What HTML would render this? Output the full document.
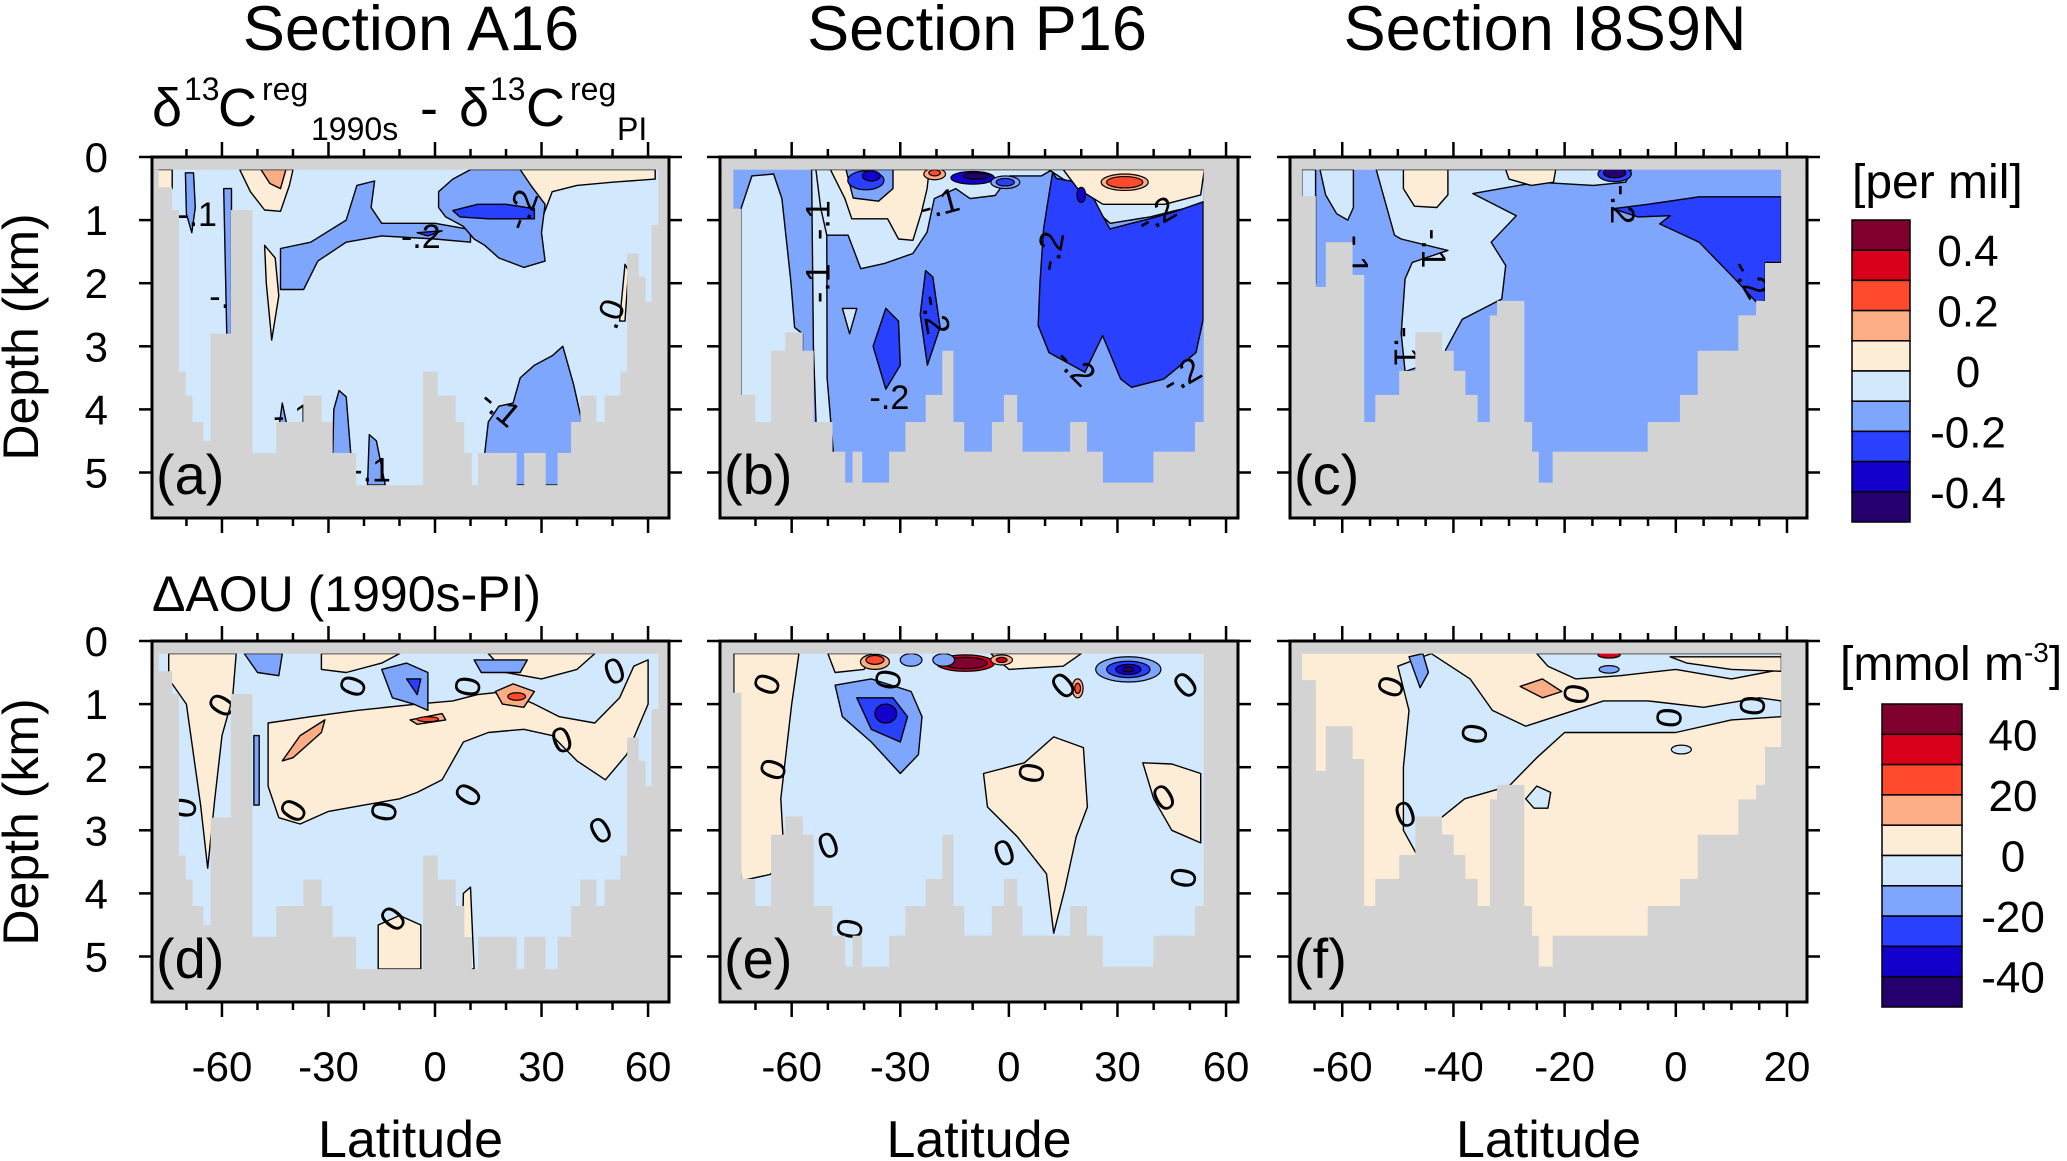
<!DOCTYPE html>
<html><head><meta charset="utf-8"><style>
html,body{margin:0;padding:0;background:#fff;}
svg{display:block;font-family:"Liberation Sans",sans-serif;}
</style></head><body>
<svg id="fig" xmlns="http://www.w3.org/2000/svg" width="2067" height="1161" viewBox="0 0 2067 1161">
<rect x="0" y="0" width="2067" height="1161" fill="#fff"/>
<text x="411" y="50" font-size="63" text-anchor="middle">Section A16</text>
<text x="977" y="50" font-size="63" text-anchor="middle">Section P16</text>
<text x="1545" y="50" font-size="63" text-anchor="middle">Section I8S9N</text>
<g>
<text x="152" y="126" font-size="54">δ</text><text x="184" y="100" font-size="32">13</text><text x="218" y="126" font-size="54">C</text><text x="262" y="100" font-size="32">reg</text><text x="311" y="140" font-size="32">1990s</text>
<text x="420" y="126" font-size="54">-</text>
<text x="459" y="126" font-size="54">δ</text><text x="490" y="100" font-size="32">13</text><text x="526" y="126" font-size="54">C</text><text x="570" y="100" font-size="32">reg</text><text x="617" y="140" font-size="32">PI</text>
</g>
<text x="152" y="611" font-size="50">ΔAOU (1990s-PI)</text>
<text transform="translate(38,337) rotate(-90)" font-size="50" text-anchor="middle">Depth (km)</text>
<text transform="translate(38,822) rotate(-90)" font-size="50" text-anchor="middle">Depth (km)</text>
<text x="1852" y="198" font-size="48">[per mil]</text>
<text x="1840" y="680" font-size="48">[mmol m<tspan dy="-18" font-size="28">-3</tspan><tspan dy="18">]</tspan></text>
<g id="panels"></g>
<g id="cbars"></g>
</svg>
<script>
const NS="http://www.w3.org/2000/svg";
const LEV_TOP=[-0.4,-0.3,-0.2,-0.1,0,0.1,0.2,0.3,0.4];
const LEV_BOT=[-40,-30,-20,-10,0,10,20,30,40];
const COLORS=['#24006e','#1400cc','#2a40ff','#7fa6fd','#d2e8fd','#fdedd6','#fdad86','#ff4a2e','#d9001b','#80002f'];
const CB_TOP_LABELS=['0.4','0.2','0','-0.2','-0.4'];
const CB_BOT_LABELS=['40','20','0','-20','-40'];

const A_bathyEdges=[-80,-77.9,-74.1,-72.2,-70.3,-68.4,-65.3,-63.1,-57.4,-51.5,-44.6,-37,-32,-28.9,-24.5,-22.3,-3.3,0.7,5.7,8.2,10.3,12.2,14.5,22.9,25.2,31.1,34.6,38.4,41,45.4,47.9,52.3,54.2,57.3,59.2,61.1,63,66];
const A_bathyDepth=[0.2,0.48,0.84,3.4,3.78,4.2,4.5,2.8,0.84,4.69,4.2,3.78,4.2,4.69,4.69,5.2,3.4,3.78,4.2,4.69,5.2,4.69,4.69,5.2,4.69,5.2,4.69,4.2,3.78,4.2,3.78,3.4,1.53,1.9,2.3,1.08,0.2];
const B_bathyEdges=[-81,-76.2,-74,-70.1,-65.6,-61.7,-57,-54,-48.8,-45.3,-43.1,-40.6,-33,-28.5,-22.9,-18.3,-15.4,-12.4,-4.6,-1.3,2.2,3.7,17,21.5,25.9,40,51.5,53.9,64];
const B_bathyDepth=[0.2,0.82,3.77,4.2,3.07,2.78,3.07,4.2,4.67,5.16,4.67,5.16,4.67,4.2,3.77,3.07,4.2,4.67,4.2,3.77,4.2,4.67,4.2,4.67,5.16,4.67,4.2,0.2];
const C_bathyEdges=[-70,-67.3,-64.8,-62.9,-58.2,-56.1,-54,-49.7,-46.8,-42.1,-40,-37.9,-35.7,-33.4,-32.1,-27.3,-25.9,-24.7,-22.1,-5,0.8,4,11.3,14.5,16.1,19,24];
const C_bathyDepth=[0.2,0.62,2.06,1.35,1.87,4.2,3.77,3.39,2.78,3.07,3.39,3.77,4.2,2.51,2.28,4.2,4.67,5.16,4.67,4.2,3.77,3.07,2.51,2.28,1.68,0.2];

const A_base=-0.05;
const A_polyVals=[0.05,0.05,0.15,0.05,0.05,0.05,-0.15,-0.15,-0.25,-0.25,-0.15,-0.15,-0.15,-0.15,-0.15,-0.15];
const A_polyPts=[
[[-79,0.2],[-74,0.2],[-74,0.5],[-79,0.5]],
[[-55,0.2],[-40,0.2],[-41,0.45],[-43.5,0.86],[-48,0.84],[-52,0.55]],
[[-49,0.2],[-42,0.2],[-43.5,0.5],[-46.5,0.42]],
[[20.7,0.2],[62,0.2],[62,0.35],[50,0.4],[40,0.45],[33,0.55],[30,1.0],[26,0.8],[24,0.45],[21,0.35]],
[[-48,1.4],[-45,1.6],[-44,2.2],[-46,2.9],[-47.5,2.0]],
[[52,2.6],[53.5,1.7],[54.5,1.8],[53.5,2.6]],
[[-43.5,1.45],[-35,1.35],[-25,1.0],[-22,0.45],[-17,0.38],[-18,0.8],[-15,1.05],[0,1.05],[10,1.15],[10,1.35],[0,1.3],[-15,1.25],[-25,1.35],[-33,1.65],[-37,2.1],[-43.5,2.1]],
[[1,0.55],[5,0.35],[10,0.2],[24,0.2],[27,0.45],[31,0.75],[30,1.2],[31,1.65],[25,1.75],[18,1.6],[14,1.4],[11,1.3],[8,1.1],[3,0.95],[1,0.8]],
[[5,0.85],[12,0.75],[20,0.75],[28,0.82],[28,0.98],[15,0.98],[7,0.95]],
[[-5,1.2],[2,1.17],[-2,1.25]],
[[14,5.2],[14,4.7],[15,4.2],[18,3.95],[22,3.9],[24,3.5],[28,3.3],[33,3.15],[36,3.0],[39,3.6],[41,4.1],[42,5.2]],
[[-59.5,0.5],[-57.3,0.5],[-57.3,3.2],[-58.5,3.2]],
[[-70.3,0.25],[-68,0.25],[-67.5,0.8],[-68.5,1.2],[-70,0.9]],
[[-29,5.2],[-28.5,4.0],[-27,3.7],[-25,3.8],[-23,5.2]],
[[-19,5.2],[-18.5,4.4],[-16.5,4.5],[-14,5.2]],
[[-44,4.3],[-43,3.9],[-41.5,4.3]]];
const A_ellipses=[];
const A_labels=[[-67,0.95,'-.1',0],[-58,2.25,'-.1',0],[-4,1.3,'-.2',0],[25,0.85,'-.2',-70],[50,2.5,'.0',-70],[-40,4.15,'-.1',0],[-18,5.0,'-.1',0],[18,4.0,'-.1',40]];

const B_base=-0.15;
const B_polyVals=[-0.05,-0.05,-0.05,0.05,-0.15,-0.05,-0.25,0.05,-0.25,-0.25,-0.05];
const B_polyPts=[
[[-74,0.82],[-71,0.3],[-65,0.27],[-62.7,0.66],[-60.2,1.98],[-59.2,2.7],[-57,2.8],[-57,4.5],[-74,4.5]],
[[-54.5,0.2],[-50.5,0.2],[-50.3,1.24],[-50.2,3.5],[-48.5,4.67],[-53,4.67],[-54,3]],
[[-53.3,0.2],[12,0.2],[9,0.3],[0.2,0.3],[-3.8,0.61],[-10.7,0.66],[-14.7,0.5],[-20.6,0.66],[-22.6,1.19],[-26.5,1.53],[-34.5,1.69],[-40.9,1.77],[-44.4,1.24],[-50.3,1.24],[-52,0.8]],
[[-49.3,0.2],[-22,0.2],[-22.6,0.5],[-24.1,0.87],[-26.5,1.32],[-30.5,1.3],[-33.5,0.98],[-43.4,0.98],[-45.3,0.66]],
[[-45,0.2],[-32,0.2],[-32,0.5],[-36,0.7],[-43,0.65]],
[[11,0.2],[54,0.2],[54,0.75],[46,0.85],[39,0.95],[28,1.05],[25,0.9],[21,0.55],[15,0.35]],
[[12.1,0.24],[13.1,0.34],[19,0.4],[23,0.61],[25.9,0.93],[27.9,1.14],[38.8,0.98],[45.7,0.87],[53.7,0.71],[53.7,2.57],[51.7,3.1],[42.8,3.52],[33.9,3.65],[30.9,3.52],[25.9,2.83],[21,3.41],[11.1,3.1],[8.1,2.67],[8.6,1.98],[9.6,1.14],[10.6,0.77]],
[[15,0.2],[54,0.2],[53,0.6],[43,0.75],[26,0.75],[19,0.5]],
[[-34,2.4],[-30.5,2.6],[-30,3.3],[-34,3.68],[-37.5,3.0]],
[[-23,1.8],[-21,1.9],[-19,2.7],[-22.5,3.3],[-24.5,2.5]],
[[-46,2.4],[-42,2.4],[-44,2.8]]];
const B_ellipses=[[-39.5,0.37,5,0.15,-0.25],[-38,0.3,2.5,0.08,-0.35],[-20.5,0.27,3,0.09,0.15],[-20.5,0.25,1.6,0.05,0.25],[-10,0.33,6,0.1,-0.35],[-9,0.3,3.5,0.05,-0.45],[-1,0.4,4,0.1,-0.15],[-1,0.4,2.5,0.06,-0.25],[32,0.4,6.5,0.13,0.15],[32,0.4,5,0.09,0.25],[20,0.6,1.2,0.12,-0.35]];
const B_labels=[[-52,1.0,'-.1',-90],[-52,2.0,'-.1',-90],[-19,0.78,'-.1',-15],[-21,2.5,'-.2',80],[-33,3.85,'-.2',0],[12,1.5,'-.2',-80],[18,3.35,'-.2',45],[41,0.95,'-.2',-30],[48,3.5,'-.2',-30]];

const C_base=-0.15;
const C_polyVals=[-0.05,-0.05,-0.05,0.05,0.05,-0.25];
const C_polyPts=[
[[-53.9,0.2],[-8,0.2],[-9,0.4],[-14.8,0.45],[-25,0.4],[-36.5,0.58],[-28.7,0.93],[-33.2,1.35],[-30.6,1.72],[-31.3,2.25],[-38.4,2.57],[-41.3,3.04],[-42,3.2],[-48.7,3.4],[-49.4,2.8],[-48.7,1.93],[-47.4,1.67],[-41,1.48],[-49.4,1.3],[-50.6,1.24]],
[[-67.3,0.2],[-64.8,0.2],[-64.8,2.0],[-67.3,2.0]],
[[-64,0.2],[-58,0.2],[-58,0.8],[-59,1.0],[-61,0.9],[-63,0.6]],
[[-49,0.2],[-41,0.2],[-41,0.6],[-43,0.8],[-47,0.78],[-49,0.5]],
[[-30.6,0.2],[-21.6,0.2],[-22,0.4],[-26,0.45],[-30,0.35]],
[[-11.3,0.82],[-5,0.75],[4.2,0.63],[19,0.63],[19,1.67],[16.1,1.67],[16.1,2.28],[14.5,2.3],[10.6,1.93],[4.2,1.35],[-2.9,1.06],[-1,0.93],[-6.8,0.95]]];
const C_ellipses=[[-11,0.27,3,0.12,-0.25],[-11,0.25,2,0.08,-0.45]];
const C_labels=[[-58,1.55,'-.1',90],[-44,1.45,'-.1',90],[-49,3.0,'-.1',90],[-10,0.75,'-.2',90],[13,1.95,'-.2',60]];

const D_base=-5;
const D_polyVals=[5,5,5,5,5,5,-15,-15,-25,-15,-15,15,15,15];
const D_polyPts=[
[[-75,0.2],[-56,0.2],[-57,0.9],[-60,1.5],[-62,2.5],[-64,3.6],[-66,2.6],[-70,1.0],[-75,0.6]],
[[-47,1.3],[-35,1.2],[-22,1.1],[-5,1.0],[5,0.95],[12,0.85],[20,0.8],[28,1.0],[35,1.2],[45,1.3],[52,0.9],[56,0.4],[60,0.3],[60,1.0],[54,1.8],[48,2.2],[40,1.9],[33,1.5],[25,1.4],[15,1.45],[8,1.6],[2,2.2],[-5,2.4],[-10,2.5],[-20,2.6],[-30,2.7],[-38,2.9],[-44,2.8],[-47,2.3]],
[[-32,0.2],[-10,0.2],[-15,0.35],[-25,0.5],[-32,0.45]],
[[15,0.2],[45,0.2],[40,0.45],[30,0.6],[20,0.5]],
[[-16,5.2],[-16,4.5],[-10,4.35],[-4,4.5],[-4,5.2]],
[[7.5,5.2],[8,4.0],[10,3.9],[11,5.2]],
[[-53.7,0.2],[-43,0.2],[-44,0.55],[-50,0.5]],
[[-15,0.45],[-8,0.35],[-2,0.5],[-2,1.1],[-6,1.0],[-12,0.9]],
[[-8,0.6],[-4,0.6],[-5,0.85]],
[[11,0.3],[26,0.3],[24,0.5],[13,0.5]],
[[-51,1.5],[-49.5,1.5],[-49.5,2.6],[-51,2.6]],
[[-43,1.9],[-38,1.5],[-31,1.25],[-32,1.45],[-40,1.85]],
[[17,0.8],[22,0.68],[28,0.8],[25,1.05],[19,1.0]],
[[-7,1.25],[2,1.15],[3,1.25],[-5,1.32]]];
const D_ellipses=[[23,0.88,2.5,0.06,25],[-2,1.24,3,0.04,25]];
const D_labels=[[-22.4,0.73,'0',-70],[10,0.73,'0',-80],[-59.4,1.04,'0',-60],[50.8,0.52,'0',-20],[36,1.61,'0',-20],[-70,2.65,'0',-80],[-39.2,2.71,'0',-60],[-13.6,2.71,'0',-80],[10,2.46,'0',-60],[47,3.04,'0',-30],[-11.2,4.43,'0',-50]];

const E_base=-5;
const E_polyVals=[5,5,5,5,5,-15,-25];
const E_polyPts=[
[[-76,0.2],[-58,0.2],[-60,1.0],[-63,2.5],[-62,3.5],[-66,3.7],[-74,3.8],[-76,2]],
[[-50,0.2],[-38,0.2],[-40,0.45],[-48,0.5]],
[[-7,2.1],[4.3,1.93],[12.4,1.52],[20.6,1.69],[21.7,2.63],[18.6,3.1],[15.5,3.92],[12.4,4.63],[10.4,3.69],[2.3,3.1],[-5.9,2.63]],
[[37,1.93],[45,1.95],[53,2.1],[53,3.2],[45,3.0],[40,2.5]],
[[-5,0.2],[20,0.2],[15,0.4],[0,0.45]],
[[-48,0.7],[-38,0.6],[-27,0.8],[-24,1.2],[-25,1.8],[-30,2.1],[-38,1.6],[-46,1.2]],
[[-42,0.9],[-32,0.9],[-28,1.2],[-30,1.6],[-38,1.4]]];
const E_ellipses=[[-34,1.15,3,0.15,-35],[-37,0.33,4,0.12,15],[-37,0.3,2.5,0.07,25],[-27,0.3,3,0.1,-15],[-12,0.35,8,0.13,35],[-12,0.35,6,0.09,45],[-18,0.3,3,0.1,-15],[-2,0.3,3,0.08,15],[-2,0.3,1.5,0.04,35],[33,0.45,9,0.2,-15],[33,0.45,6,0.13,-25],[33,0.45,3.5,0.08,-35],[33,0.45,1.5,0.04,-45],[19,0.75,1.5,0.15,15],[19,0.75,0.8,0.08,25]];
const E_labels=[[-66.1,0.7,'0',-70],[-64.4,2.05,'0',-70],[-32.6,0.62,'0',-80],[7,2.1,'0',-80],[-49.6,3.28,'0',-20],[-1,3.4,'0',-20],[-43.2,4.57,'0',-80],[15.5,0.74,'0',-40],[49.3,0.73,'0',-40],[43.2,2.52,'0',-30],[49,3.76,'0',-80]];

const F_base=5;
const F_polyVals=[-5,5,-5,15,-15,-5];
const F_polyPts=[
[[-25,0.2],[19,0.2],[19,0.45],[10,0.6],[0,0.45],[-10,0.55],[-18,0.6],[-23,0.4]],
[[-1,0.25],[19,0.25],[19,0.48],[10,0.45],[2,0.35]],
[[-50,0.4],[-44,0.2],[-37,0.6],[-33,1.1],[-27,1.35],[-20,1.15],[-13,0.95],[-5,0.95],[5,1.05],[15,0.9],[19,0.95],[19,1.2],[10,1.25],[0,1.45],[-10,1.45],[-20,1.45],[-25,1.85],[-30,2.3],[-38,2.5],[-45,3.0],[-46.5,3.4],[-49,3.0],[-49,2.0],[-48,1.1]],
[[-28,0.72],[-24,0.6],[-20.5,0.8],[-24,0.9]],
[[-48,0.25],[-45.5,0.2],[-44.5,0.5],[-46,0.74]],
[[-27,2.5],[-25,2.3],[-22.5,2.4],[-23,2.65],[-25.5,2.65]]];
const F_ellipses=[[-12,0.45,1.8,0.06,-15],[-12,0.22,2,0.05,35],[1,1.72,1.8,0.07,-5]];
const F_labels=[[-50.8,0.74,'0',-70],[-17.4,0.85,'0',-80],[-35.7,1.48,'0',-80],[-0.7,1.22,'0',-85],[14.3,1.03,'0',-85],[-48.5,2.79,'0',-20]];

const root=document.getElementById('panels');
function mk(tag,attrs,parent){const e=document.createElementNS(NS,tag);for(const k in attrs)e.setAttribute(k,attrs[k]);parent.appendChild(e);return e;}
function colorOf(v,lev){let i=0;while(i<lev.length&&v>lev[i])i++;return COLORS[i];}

const KM=63.1, FH=361;
const PANELS=[
{k:'a',x0:152,x1:669,y0:157,lat0:-79.7,lat1:65.9,major:[-60,-30,0,30,60],mstep:10,lev:LEV_TOP,base:A_base,vals:A_polyVals,pts:A_polyPts,ell:A_ellipses,lab:A_labels,be:A_bathyEdges,bd:A_bathyDepth,ylab:true,xlab:false},
{k:'b',x0:720,x1:1238,y0:157,lat0:-79.8,lat1:63.3,major:[-60,-30,0,30,60],mstep:10,lev:LEV_TOP,base:B_base,vals:B_polyVals,pts:B_polyPts,ell:B_ellipses,lab:B_labels,be:B_bathyEdges,bd:B_bathyDepth,ylab:false,xlab:false},
{k:'c',x0:1290,x1:1807,y0:157,lat0:-69.4,lat1:23.6,major:[-60,-40,-20,0,20],mstep:5,lev:LEV_TOP,base:C_base,vals:C_polyVals,pts:C_polyPts,ell:C_ellipses,lab:C_labels,be:C_bathyEdges,bd:C_bathyDepth,ylab:false,xlab:false},
{k:'d',x0:152,x1:669,y0:641,lat0:-79.7,lat1:65.9,major:[-60,-30,0,30,60],mstep:10,lev:LEV_BOT,base:D_base,vals:D_polyVals,pts:D_polyPts,ell:D_ellipses,lab:D_labels,be:A_bathyEdges,bd:A_bathyDepth,ylab:true,xlab:true},
{k:'e',x0:720,x1:1238,y0:641,lat0:-79.8,lat1:63.3,major:[-60,-30,0,30,60],mstep:10,lev:LEV_BOT,base:E_base,vals:E_polyVals,pts:E_polyPts,ell:E_ellipses,lab:E_labels,be:B_bathyEdges,bd:B_bathyDepth,ylab:false,xlab:true},
{k:'f',x0:1290,x1:1807,y0:641,lat0:-69.4,lat1:23.6,major:[-60,-40,-20,0,20],mstep:5,lev:LEV_BOT,base:F_base,vals:F_polyVals,pts:F_polyPts,ell:F_ellipses,lab:F_labels,be:C_bathyEdges,bd:C_bathyDepth,ylab:false,xlab:true}
];

PANELS.forEach(p=>{
  const xs=lat=>p.x0+(lat-p.lat0)/(p.lat1-p.lat0)*(p.x1-p.x0);
  const ys=d=>p.y0+d*KM;
  const pxDeg=(p.x1-p.x0)/(p.lat1-p.lat0);
  const y1=p.y0+FH;
  const g=mk('g',{},root);
  
  
  const cp=mk('clipPath',{id:'clip-'+p.k},g);
  mk('rect',{x:p.x0,y:p.y0,width:p.x1-p.x0,height:FH},cp);
  const bg=mk('rect',{x:p.x0,y:p.y0,width:p.x1-p.x0,height:FH,fill:'#d3d3d3'},g);
  
  
  const field=mk('g',{'clip-path':'url(#clip-'+p.k+')'},g);
  
  
  const base=mk('rect',{x:p.x0,y:ys(0.2),width:p.x1-p.x0,height:y1-ys(0.2),fill:colorOf(p.base,p.lev)},field);
  
  
  p.pts.forEach((poly,i)=>{
    const d=poly.map((q,j)=>(j?'L':'M')+xs(q[0]).toFixed(1)+','+ys(q[1]).toFixed(1)).join('')+'Z';
    const el=mk('path',{d:d,fill:colorOf(p.vals[i],p.lev),stroke:'#000','stroke-width':1.4,'stroke-linejoin':'round'},field);
    
    
  });
  p.ell.forEach(e=>{
    const el=mk('ellipse',{cx:xs(e[0]),cy:ys(e[1]),rx:e[2]*pxDeg,ry:e[3]*KM,fill:colorOf(e[4],p.lev),stroke:'#000','stroke-width':1.2},field);
    
    
  });
  p.lab.forEach(l=>{
    const t=mk('text',{x:0,y:0,transform:'translate('+xs(l[0]).toFixed(1)+','+ys(l[1]).toFixed(1)+') rotate('+l[3]+')','font-size':p.lev===LEV_TOP?34:36,'text-anchor':'middle','dominant-baseline':'middle'},field);
    t.textContent=l[2];
    
    
  });
  const bath=mk('g',{fill:'#d3d3d3'},field);
  
  
  const top=mk('rect',{x:p.x0,y:p.y0,width:p.x1-p.x0,height:ys(0.2)-p.y0},bath);
  
  
  for(let i=0;i<p.bd.length;i++){
    const xa=xs(p.be[i]),xb=xs(p.be[i+1]);
    const r=mk('rect',{x:xa-0.3,y:ys(p.bd[i]),width:xb-xa+0.6,height:y1-ys(p.bd[i])},bath);
    
    
  }
  const lt=mk('text',{x:p.x0+4,y:y1-24,'font-size':56},g);
  lt.textContent='('+p.k+')';
  
  
  const fr=mk('rect',{x:p.x0,y:p.y0,width:p.x1-p.x0,height:FH,fill:'none',stroke:'#000','stroke-width':3},g);
  
  
  const tk=mk('g',{stroke:'#000','stroke-width':2.5},g);
  
  
  const start=Math.ceil(p.lat0/p.mstep)*p.mstep;
  for(let L=start;L<=p.lat1;L+=p.mstep){
    const isMaj=p.major.indexOf(L)>=0;const len=isMaj?15:8;const x=xs(L);
    mk('line',{x1:x,y1:p.y0,x2:x,y2:p.y0-len},tk);
    mk('line',{x1:x,y1:y1,x2:x,y2:y1+len},tk);
  }
  for(let d=0;d<=5;d++){
    mk('line',{x1:p.x0,y1:ys(d),x2:p.x0-13,y2:ys(d)},tk);
    mk('line',{x1:p.x1,y1:ys(d),x2:p.x1+13,y2:ys(d)},tk);
    if(p.ylab){
      const t=mk('text',{x:108,y:ys(d)+15,'font-size':42,'text-anchor':'end',stroke:'none'},g);
      t.textContent=String(d);
      
      
    }
  }
  if(p.xlab){
    p.major.forEach(L=>{
      const t=mk('text',{x:xs(L),y:1081,'font-size':42,'text-anchor':'middle'},g);
      t.textContent=String(L);
      
      
    });
    const xt=mk('text',{x:(p.x0+p.x1)/2,y:1157,'font-size':52,'text-anchor':'middle'},g);
    xt.textContent='Latitude';
    
    
  }
});

const cb=document.getElementById('cbars');
function colorbar(x0,w,y0,h,labels,lx,name){
  const g=mk('g',{},cb);
  
  
  const bh=h/COLORS.length;
  for(let i=0;i<COLORS.length;i++){
    const r=mk('rect',{x:x0,y:y0+i*bh,width:w,height:bh,fill:COLORS[COLORS.length-1-i],stroke:'#000','stroke-width':1.5},g);
    
    
  }
  labels.forEach((s,i)=>{
    const t=mk('text',{x:lx,y:y0+(1+2*i)*bh+16,'font-size':44,'text-anchor':'middle'},g);
    t.textContent=s;
    
    
  });
}
colorbar(1852,58,220,302,CB_TOP_LABELS,1968,'colorbar-permil');
colorbar(1882,80,704,303,CB_BOT_LABELS,2013,'colorbar-mmol');
</script>
</body></html>
